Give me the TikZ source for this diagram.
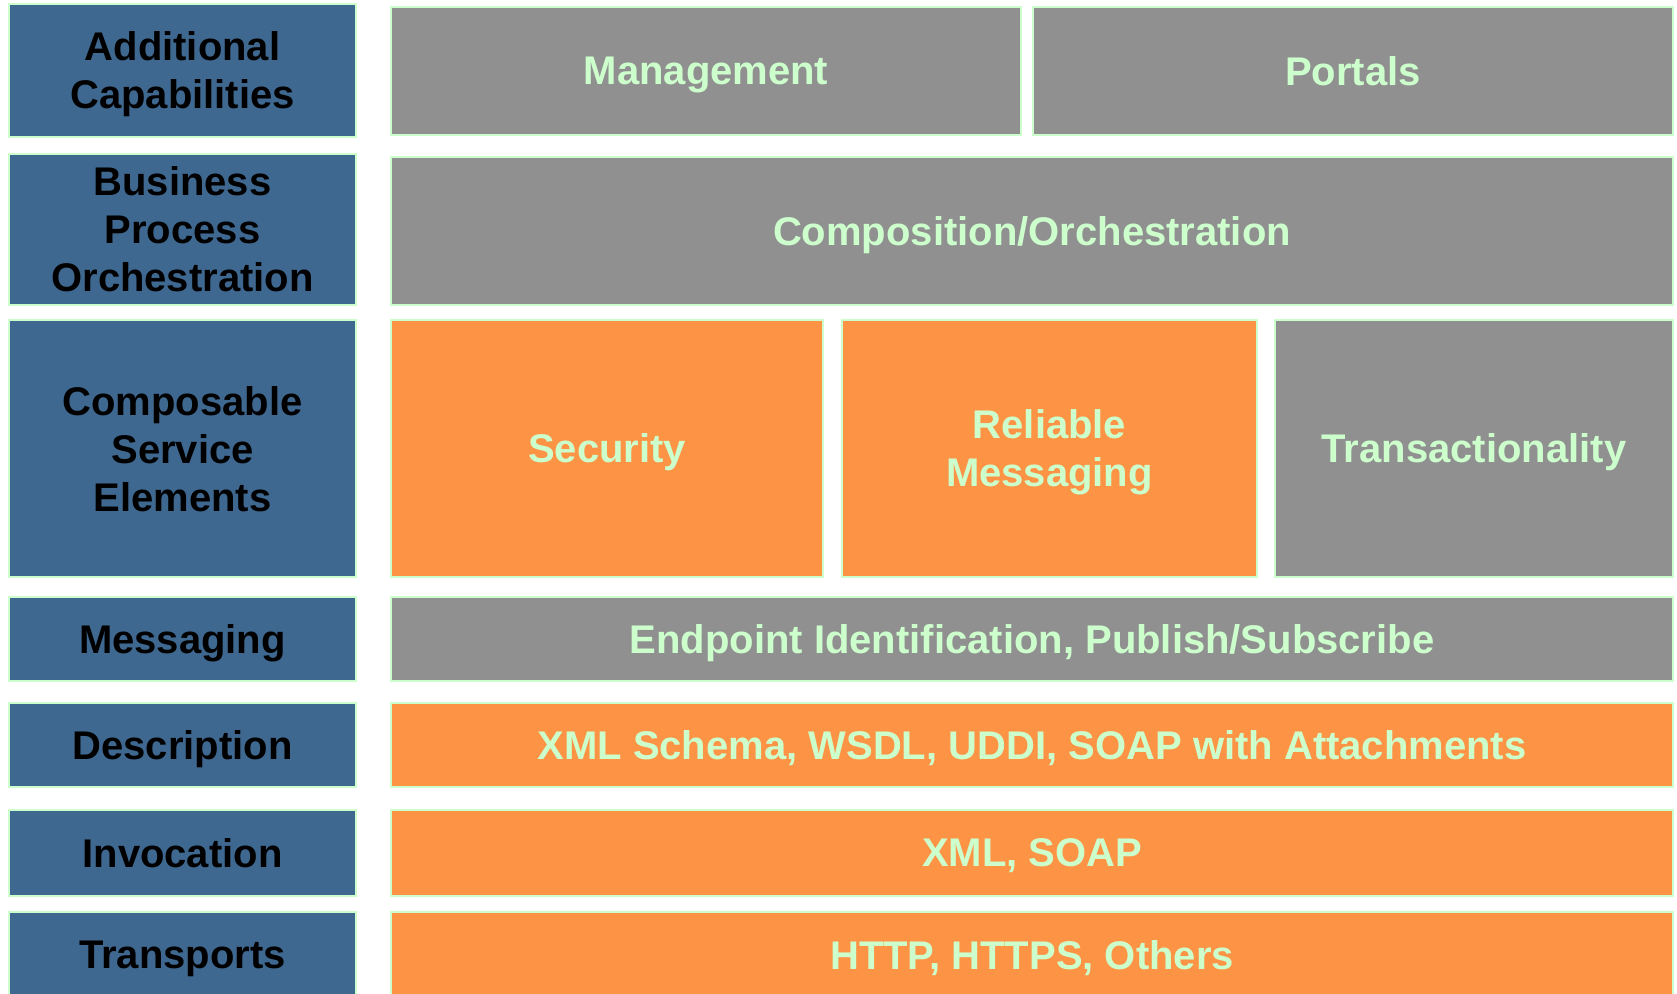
\documentclass[tikz,border=0pt]{standalone}
\usepackage{fontspec}
\setmainfont{Liberation Sans}
\definecolor{layerblue}{HTML}{3F6890}
\definecolor{layergray}{HTML}{909090}
\definecolor{layerorange}{HTML}{FD9344}
\definecolor{palegreen}{HTML}{CCFFCC}
\tikzset{
    box/.style={rectangle, draw=palegreen, line width=2pt, inner sep=0pt, align=center,
        text depth=0pt, font=\fontsize{40}{48}\selectfont\bfseries},
    leftbox/.style={box, fill=layerblue, text=black, minimum width=347pt},
    graybox/.style={box, fill=layergray, text=palegreen},
    orangebox/.style={box, fill=layerorange, text=palegreen}
}
\begin{document}
\begin{tikzpicture}[x=1pt, y=-1pt]
                    \useasboundingbox (0, 0) rectangle (1677, 993);
                    \clip (0, 0) rectangle (1677, 993);
                    \fill[white] (0, 0) rectangle (1677, 993);

                    %%rows
                    \node[leftbox, minimum height=133pt] (addcap) at (182.5, 70.5){Additional\\Capabilities};
                    \node[leftbox, minimum height=151pt] (bpo) at (182.5, 229.5){Business\\Process\\Orchestration};
                    \node[leftbox, minimum height=257pt] (cse) at (182.5, 448.5){Composable\\Service\\Elements};
                    \node[leftbox, minimum height=84pt] (msg) at (182.5, 639){Messaging};
                    \node[leftbox, minimum height=84pt] (desc) at (182.5, 745){Description};
                    \node[leftbox, minimum height=86pt] (invoc) at (182.5, 853){Invocation};
                    \node[leftbox, minimum height=86pt] (transp) at (182.5, 955){Transports};

                    %%nodes
                        \node[graybox, minimum width=630pt, minimum height=128pt] (mgmt) at (706, 71){Management};
                        \node[graybox, minimum width=640pt, minimum height=128pt] (portals) at (1353, 71){Portals};
                    \node[graybox, minimum width=1282pt, minimum height=148pt] (compo) at (1032, 231){Composition/Orchestration};
                        \node[orangebox, minimum width=432pt, minimum height=257pt] (secur) at (607, 448.5){Security};
                        \node[orangebox, minimum width=415pt, minimum height=257pt] (relmsg) at (1049.5, 448.5){Reliable\\Messaging};
                        \node[graybox, minimum width=398pt, minimum height=257pt] (trans) at (1474, 448.5){Transactionality};
                    \node[graybox, minimum width=1282pt, minimum height=84pt] (endpt) at (1032, 639){Endpoint Identification, Publish/Subscribe};
                    \node[orangebox, minimum width=1282pt, minimum height=84pt] (xmlsch) at (1032, 745){XML Schema, WSDL, UDDI, SOAP with Attachments};
                    \node[orangebox, minimum width=1282pt, minimum height=86pt] (xmlsoap) at (1032, 853){XML, SOAP};
                    \node[orangebox, minimum width=1282pt, minimum height=86pt] (http) at (1032, 955){HTTP, HTTPS, Others};
                \end{tikzpicture}
\end{document}
